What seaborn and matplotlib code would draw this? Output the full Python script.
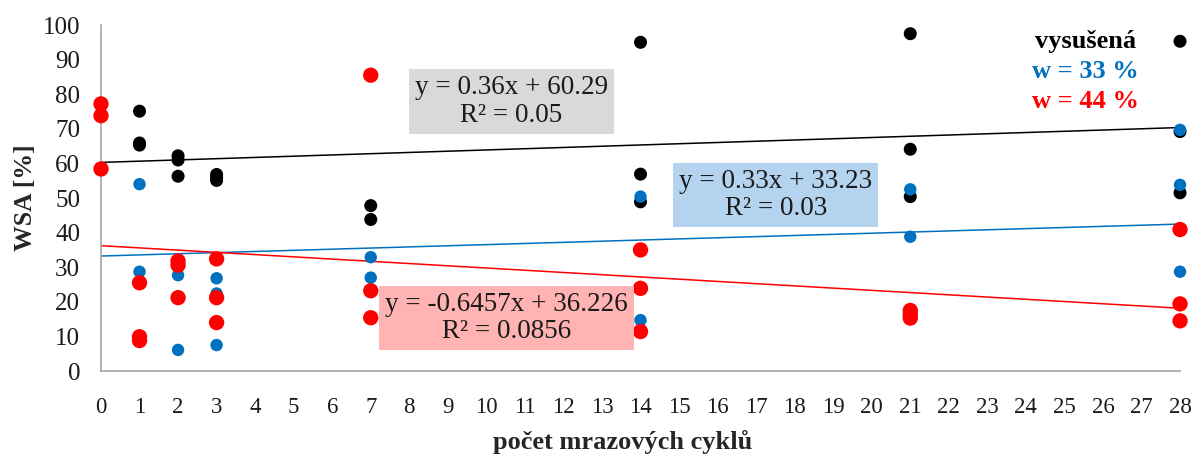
import matplotlib
matplotlib.use("Agg")
import matplotlib.pyplot as plt
import seaborn as sns
import pandas as pd
import numpy as np

# WSA values [%] per number of freeze cycles, grouped by moisture state
dry_cycles = [1, 1, 1, 2, 2, 2, 3, 3, 3, 7, 7, 14, 14, 14, 21, 21, 21, 28, 28, 28]
dry_wsa = [75.1, 65.9, 65.3, 62.2, 61.0, 56.3, 56.8, 55.9, 55.1, 47.8, 43.8,
           95.0, 56.9, 48.9, 97.5, 64.1, 50.4, 95.3, 69.2, 51.5]

w33_cycles = [1, 1, 2, 2, 3, 3, 3, 7, 7, 14, 14, 21, 21, 28, 28, 28]
w33_wsa = [54.0, 28.7, 27.7, 6.1, 26.8, 22.4, 7.5, 32.9, 27.0,
           50.4, 14.7, 52.5, 38.8, 69.7, 53.8, 28.7]

w44_cycles = [0, 0, 0, 1, 1, 1, 2, 2, 2, 3, 3, 3, 7, 7, 7, 14, 14, 14,
              21, 21, 21, 28, 28, 28]
w44_wsa = [77.2, 73.8, 58.4, 25.5, 9.9, 8.8, 31.8, 30.6, 21.2, 32.4, 21.2, 14.0,
           85.5, 23.2, 15.4, 35.0, 23.9, 11.4, 17.5, 16.3, 15.3, 40.9, 19.4, 14.5]

# Linear trend coefficients (slope, intercept, R²)
trend_dry = (0.36, 60.29, "0.05")
trend_w33 = (0.33, 33.23, "0.03")
trend_w44 = (-0.6457, 36.226, "0.0856")

series_names = ["vysušená", "w = 33 %", "w = 44 %"]
colors = {"vysušená": "#000000", "w = 33 %": "#0070c0", "w = 44 %": "#ff0000"}
dot_sizes = {"vysušená": 88, "w = 33 %": 80, "w = 44 %": 122}

df = pd.concat([
    pd.DataFrame({"cycles": dry_cycles, "wsa": dry_wsa, "state": series_names[0]}),
    pd.DataFrame({"cycles": w33_cycles, "wsa": w33_wsa, "state": series_names[1]}),
    pd.DataFrame({"cycles": w44_cycles, "wsa": w44_wsa, "state": series_names[2]}),
], ignore_index=True)

sns.set_theme(style="white")
plt.rcParams["font.family"] = ["Liberation Serif", "DejaVu Serif"]

fig = plt.figure(figsize=(11.98, 4.55), dpi=100)
ax = fig.add_axes([0.0843, 0.1846, 0.9007, 0.7604])

# trend lines over the full cycle range
x_line = np.array([0, 28])
for name, (k, q, _) in zip(series_names, [trend_dry, trend_w33, trend_w44]):
    sns.lineplot(x=x_line, y=k * x_line + q, ax=ax, color=colors[name],
                 linewidth=1.1, zorder=2, legend=False)

sns.scatterplot(data=df, x="cycles", y="wsa", hue="state", palette=colors,
                size="state", sizes=dot_sizes, linewidth=0, alpha=1,
                ax=ax, legend=False, zorder=3, clip_on=False)

ax.set_xlim(0, 28)
ax.set_ylim(0, 100)
ax.set_xticks(range(0, 29))
ax.set_yticks(range(0, 101, 10))
ax.tick_params(axis="both", which="both", direction="out", length=6, width=1,
               color="#a6a6a6", labelcolor="#1a1a1a")
ax.tick_params(axis="y", labelsize=18, pad=9)
ax.tick_params(axis="x", labelsize=16.5, pad=13)
for side in ["top", "right"]:
    ax.spines[side].set_visible(False)
for side in ["left", "bottom"]:
    ax.spines[side].set_color("#a6a6a6")
    ax.spines[side].set_linewidth(1.2)

ax.set_xlabel("počet mrazových cyklů", fontsize=19, fontweight="bold")
ax.xaxis.set_label_coords(0.483, -0.17)
ax.set_ylabel("WSA [%]", fontsize=18.5, fontweight="bold")
ax.yaxis.set_label_coords(-0.059, 0.5)

# equation boxes
def eq_text(k, q, r2):
    sign = "+" if q >= 0 else "-"
    return f"y = {k:g}x {sign} {abs(q):g}\nR² = {r2}"

box_kw = dict(ha="center", va="center", fontsize=19.5, linespacing=1.12,
              color="#1a1a1a", zorder=4)
ax.text(10.65, 77.9, eq_text(*trend_dry), **box_kw,
        bbox=dict(boxstyle="square,pad=0.22", facecolor="#d9d9d9", edgecolor="none"))
ax.text(17.51, 50.9, eq_text(*trend_w33), **box_kw,
        bbox=dict(boxstyle="square,pad=0.22", facecolor="#b4d3ee", edgecolor="none"))
ax.text(10.52, 15.4, eq_text(*trend_w44), **box_kw,
        bbox=dict(boxstyle="square,pad=0.22", facecolor="#ffb3b3", edgecolor="none"))

# series labels in the upper right corner
for i, name in enumerate(series_names):
    ax.text(25.55, 95.2 - i * 8.6, name, ha="center", va="center", fontsize=19,
            fontweight="bold", color=colors[name], zorder=4)

fig.savefig("out.png", dpi=100)
